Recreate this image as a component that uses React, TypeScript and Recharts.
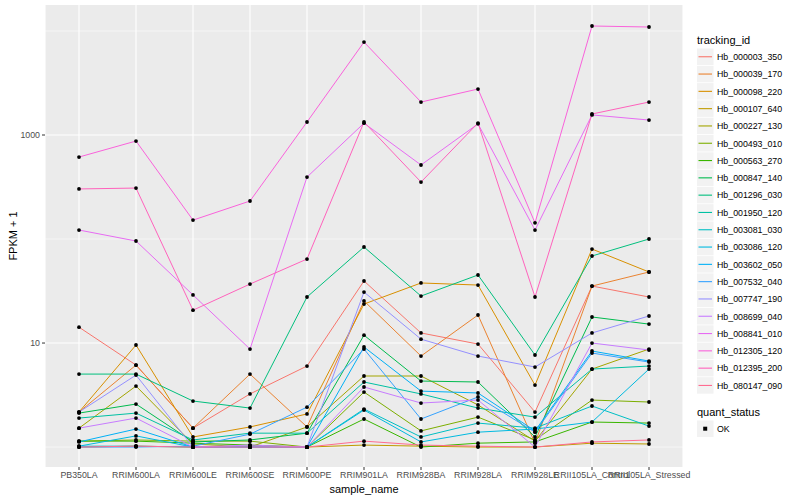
import React from 'react';
import { LineChart, Line, XAxis, YAxis, CartesianGrid } from 'recharts';

const samples = [
  'PB350LA', 'RRIM600LA', 'RRIM600LE', 'RRIM600SE', 'RRIM600PE', 'RRIM901LA',
  'RRIM928BA', 'RRIM928LA', 'RRIM928LE', 'RRII105LA_Control', 'RRII105LA_Stressed',
];

const trackingIds = [
  'Hb_000003_350', 'Hb_000039_170', 'Hb_000098_220', 'Hb_000107_640', 'Hb_000227_130',
  'Hb_000493_010', 'Hb_000563_270', 'Hb_000847_140', 'Hb_001296_030', 'Hb_001950_120',
  'Hb_003081_030', 'Hb_003086_120', 'Hb_003602_050', 'Hb_007532_040', 'Hb_007747_190',
  'Hb_008699_040', 'Hb_008841_010', 'Hb_012305_120', 'Hb_012395_200', 'Hb_080147_090',
];

// FPKM + 1, one value per sample (same order as samples)
const hb000003_350 = [14.2, 6.14, 1.52, 3.24, 6.01, 39.5, 12.5, 9.78, 2.17, 35.3, 27.7];
const hb000039_170 = [2.17, 6.14, 1.52, 5.03, 1.56, 25.4, 7.5, 18.6, 1.09, 35.3, 48.2];
const hb000098_220 = [2.17, 9.57, 1.25, 1.56, 2.08, 23.7, 37.8, 36.1, 3.94, 80.1, 48.2];
const hb000107_640 = [1, 1.02, 1, 1, 1, 1.045, 1.02, 1, 1, 1.09, 1.07];
const hb000227_130 = [1.52, 3.86, 1.07, 1, 1.56, 4.82, 4.82, 2.54, 1.14, 5.62, 8.75];
const hb000493_010 = [1.14, 1.17, 1.14, 1.14, 1, 3.38, 1.43, 1.94, 1.17, 2.83, 2.71];
const hb000563_270 = [1.14, 1.14, 1.09, 1.045, 1, 1.86, 1, 1.09, 1.12, 1.74, 1.7];
const hb000847_140 = [2.12, 2.59, 1.12, 1.17, 1.36, 11.9, 4.31, 4.22, 1.25, 17.8, 15.2];
const hb001296_030 = [5.03, 5.03, 2.77, 2.37, 27.7, 83.8, 28.3, 45.1, 7.67, 68.7, 100];
const hb001950_120 = [1.9, 2.12, 1.17, 1.36, 1.36, 4.22, 3.24, 2.37, 1.94, 5.62, 6.01];
const hb003081_030 = [1.02, 1.02, 1, 1, 1, 2.32, 1.25, 1.7, 1.52, 2.48, 1.59];
const hb003086_120 = [1.02, 1.28, 1, 1, 1, 2.27, 1.12, 1.39, 1.49, 1.74, 5.62];
const hb003602_050 = [1.12, 1.49, 1, 1, 1, 9.16, 3.45, 3.31, 1.43, 8.38, 6.71];
const hb007532_040 = [1, 1, 1.02, 1.33, 2.42, 8.75, 1.86, 3.03, 1.39, 8.01, 6.56];
const hb007747_190 = [2.17, 4.92, 1, 1, 1, 30.9, 10.9, 7.5, 5.88, 12.5, 18.2];
const hb008699_040 = [1.52, 1.9, 1, 1.045, 1, 3.78, 2.65, 2.83, 1, 10, 8.57];
const hb008841_010 = [122, 95.7, 29, 8.75, 394, 1300, 515, 1280, 122, 1560, 1393];
const hb012305_120 = [614, 875, 152, 232, 1334, 7830, 2075, 2767, 143, 11170, 10920];
const hb012395_200 = [303, 309, 20.7, 36.9, 64.2, 1334, 353, 1303, 27.7, 1592, 2075];
const hb080147_090 = [1, 1.02, 1, 1, 1, 1.14, 1.045, 1.02, 1, 1.12, 1.17];

const seriesValues = [
  hb000003_350, hb000039_170, hb000098_220, hb000107_640, hb000227_130,
  hb000493_010, hb000563_270, hb000847_140, hb001296_030, hb001950_120,
  hb003081_030, hb003086_120, hb003602_050, hb007532_040, hb007747_190,
  hb008699_040, hb008841_010, hb012305_120, hb012395_200, hb080147_090,
];

const hueColors = [
  '#F8766D', '#EA8331', '#D89000', '#C09B00', '#A3A500', '#7CAE00', '#39B600',
  '#00BB4E', '#00BF7D', '#00C1A3', '#00BFC4', '#00BAE0', '#00B0F6', '#35A2FF',
  '#9590FF', '#C77CFF', '#E76BF3', '#FA62DB', '#FF62BC', '#FF6C91',
];

const yMajor = [10, 1000];
const yMinor = [1, 100, 10000];

const data = samples.map((s, i) => {
  const row: Record<string, string | number> = { sample: s };
  trackingIds.forEach((id, k) => {
    row[id] = seriesValues[k][i];
  });
  return row;
});

const font = '"Liberation Sans", Arial, Helvetica, sans-serif';

// legend drawn as svg so the key lines render evenly
const LegendPanel = () => {
  const rowH = 17.3;
  const firstKeyTop = 48.5;
  const statusTop = firstKeyTop + trackingIds.length * rowH + 26;
  return (
    <svg width={110} height={500} style={{ position: 'absolute', left: 690, top: 0, fontFamily: font }}>
      <text x={7} y={44} fontSize={11} fill="#000">tracking_id</text>
      {trackingIds.map((id, k) => {
        const top = firstKeyTop + k * rowH;
        return (
          <g key={id}>
            <rect x={7} y={top} width={16.5} height={16.5} fill="#F2F2F2" />
            <line x1={8.5} x2={22} y1={top + 8.25} y2={top + 8.25} stroke={hueColors[k]} strokeWidth={1.1} />
            <text x={27} y={top + 11.5} fontSize={8.8} fill="#000">{id}</text>
          </g>
        );
      })}
      <text x={7} y={statusTop - 5} fontSize={11} fill="#000">quant_status</text>
      <rect x={7} y={statusTop} width={16.5} height={16.5} fill="#F2F2F2" />
      <rect x={13.2} y={statusTop + 6.2} width={4} height={4} fill="#000" />
      <text x={27} y={statusTop + 11.5} fontSize={8.8} fill="#000">OK</text>
    </svg>
  );
};

export default function App() {
  return (
    <div style={{ position: 'absolute', left: 0, top: 0, width: 800, height: 500, background: '#fff', fontFamily: font }}>
      <LineChart width={800} height={500} data={data} margin={{ top: 5, right: 117, bottom: 0, left: 0 }}>
        <CartesianGrid
          fill="#EBEBEB"
          stroke="#FFFFFF"
          strokeWidth={0.55}
          vertical={false}
          horizontalValues={yMinor}
        />
        <CartesianGrid
          stroke="#FFFFFF"
          strokeWidth={1.1}
          horizontalValues={yMajor}
        />
        <XAxis
          dataKey="sample"
          interval={0}
          padding={{ left: 34, right: 34 }}
          height={33}
          axisLine={false}
          tickLine={{ stroke: '#333333' }}
          tickSize={3}
          tickMargin={2}
          tick={{ fontSize: 8.8, fill: '#4D4D4D', fontFamily: font }}
          label={{ value: 'sample_name', position: 'insideBottom', offset: 7, fontSize: 11, fill: '#000', fontFamily: font }}
        />
        <YAxis
          type="number"
          scale="log"
          domain={[0.643, 17780]}
          allowDataOverflow
          ticks={yMajor}
          width={45}
          axisLine={false}
          tickLine={{ stroke: '#333333' }}
          tickSize={3}
          tickMargin={2}
          tick={{ fontSize: 8.8, fill: '#4D4D4D', fontFamily: font }}
          label={{ value: 'FPKM + 1', angle: -90, position: 'insideLeft', offset: 13, fontSize: 11, fill: '#000', fontFamily: font, style: { textAnchor: 'middle' } }}
        />
        {trackingIds.map((id, k) => (
          <Line
            key={id}
            dataKey={id}
            type="linear"
            stroke={hueColors[k]}
            strokeWidth={1}
            dot={false}
            activeDot={false}
            isAnimationActive={false}
          />
        ))}
        {trackingIds.map((id) => (
          <Line
            key={`${id}-pts`}
            dataKey={id}
            stroke="none"
            dot={{ r: 1.9, fill: '#000', stroke: 'none' }}
            activeDot={false}
            legendType="none"
            isAnimationActive={false}
          />
        ))}
      </LineChart>
      <LegendPanel />
    </div>
  );
}
